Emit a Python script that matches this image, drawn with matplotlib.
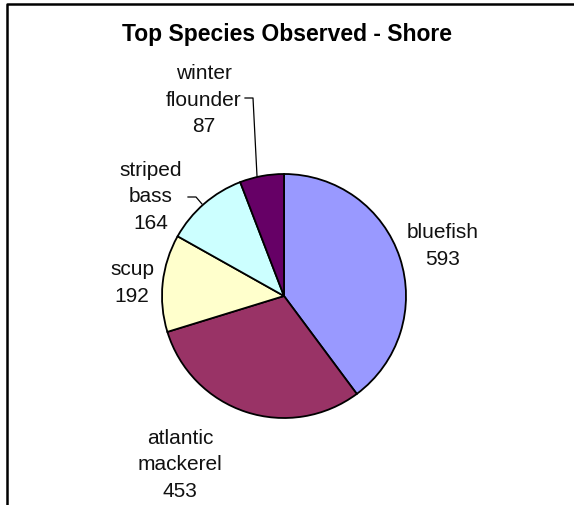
import matplotlib
matplotlib.use("Agg")
import matplotlib.pyplot as plt
from matplotlib.lines import Line2D

categories = ["bluefish", "atlantic\nmackerel", "scup", "striped\nbass", "winter\nflounder"]
values = [593, 453, 192, 164, 87]
colors = ["#9999FF", "#993366", "#FFFFCC", "#CCFFFF", "#660066"]
title = "Top Species Observed - Shore"

W, H = 574, 505
fig = plt.figure(figsize=(W / 100, H / 100), dpi=100)
ax = fig.add_axes([0, 0, 1, 1])

font = ["Liberation Sans", "DejaVu Sans"]

cx, cy, r = 284, H - 296, 122
wedges, _ = ax.pie(values, colors=colors, startangle=90, counterclock=False,
                   center=(cx, cy), radius=r, frame=True,
                   wedgeprops=dict(edgecolor="black", linewidth=1.3))
ax.set_xlim(0, W)
ax.set_ylim(0, H)
ax.set_aspect("equal")
ax.axis("off")

# label positions (pixel coords from top)
label_pos = [(443, 246), (180, 465), (132, 283), (151, 197), (204, 100)]
for cat, val, (x, y) in zip(categories, values, label_pos):
    ax.text(x, H - y, f"{cat}\n{val}", ha="center", va="center",
            fontsize=15, family=font, linespacing=1.5, color="#111111")

# leader lines
ax.add_line(Line2D([245, 253, 257], [H - 98, H - 98, H - 176], color="black", lw=0.9))
ax.add_line(Line2D([188, 196, 202], [H - 197, H - 197, H - 204], color="black", lw=0.9))

ax.text(287, H - 34, title, ha="center", va="center", fontsize=16.5,
        fontweight="bold", family=font)

# chart border (top and left visible)
fig.add_artist(Line2D([7 / W, 7 / W, 1], [0, 1 - 4 / H, 1 - 4 / H],
                      transform=fig.transFigure, color="black", lw=1.8))

fig.savefig("out.png", dpi=100)
